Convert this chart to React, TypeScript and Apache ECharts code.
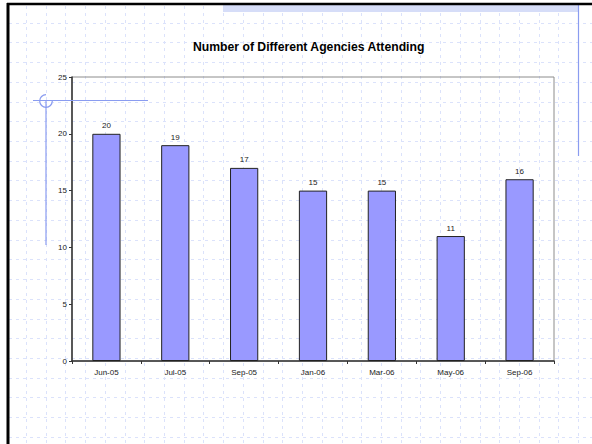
import React, { useEffect, useRef } from "react";
import * as echarts from "echarts";

const categories = ["Jun-05", "Jul-05", "Sep-05", "Jan-06", "Mar-06", "May-06", "Sep-06"];
const agencies = [20, 19, 17, 15, 15, 11, 16];
const titleText = "Number of Different Agencies Attending";

const W = 592;
const H = 444;

function buildDecor() {
  const els: any[] = [];
  const gridColor = "#dbe2fb";
  for (let x = 26; x < W; x += 19.72) {
    els.push({
      type: "line",
      z: -10,
      silent: true,
      shape: { x1: Math.round(x) + 0.5, y1: 6, x2: Math.round(x) + 0.5, y2: H },
      style: { stroke: gridColor, lineWidth: 1, lineDash: [3, 4] },
    });
  }
  for (let y = 22.7; y < H; y += 19.72) {
    els.push({
      type: "line",
      z: -10,
      silent: true,
      shape: { x1: 9, y1: Math.round(y) + 0.5, x2: W, y2: Math.round(y) + 0.5 },
      style: { stroke: gridColor, lineWidth: 1, lineDash: [3, 4] },
    });
  }
  els.push({
    type: "rect",
    z: -5,
    silent: true,
    shape: { x: 223, y: 5, width: 356, height: 7 },
    style: { fill: "#d6ddf8" },
  });
  els.push({
    type: "line",
    z: 10,
    silent: true,
    shape: { x1: 8, y1: 3, x2: 8, y2: H },
    style: { stroke: "#000", lineWidth: 3 },
  });
  els.push({
    type: "line",
    z: 10,
    silent: true,
    shape: { x1: 7, y1: 4, x2: W, y2: 4 },
    style: { stroke: "#000", lineWidth: 2.5 },
  });
  els.push({
    type: "line",
    z: 5,
    silent: true,
    shape: { x1: 578.5, y1: 5, x2: 578.5, y2: 156 },
    style: { stroke: "#8a9cf0", lineWidth: 1.2 },
  });
  els.push({
    type: "line",
    z: 5,
    silent: true,
    shape: { x1: 33, y1: 100.5, x2: 148, y2: 100.5 },
    style: { stroke: "#8a9cf0", lineWidth: 1.2 },
  });
  els.push({
    type: "line",
    z: 5,
    silent: true,
    shape: { x1: 46, y1: 100, x2: 46, y2: 245 },
    style: { stroke: "#8a9cf0", lineWidth: 1.2 },
  });
  els.push({
    type: "arc",
    z: 5,
    silent: true,
    shape: { cx: 46, cy: 101, r: 6.3, startAngle: 0, endAngle: Math.PI * 1.5, clockwise: true },
    style: { stroke: "#8a9cf0", lineWidth: 1.2, fill: "none" },
  });
  return els;
}

export default function App() {
  const ref = useRef<HTMLDivElement>(null);
  useEffect(() => {
    if (!ref.current) return;
    const chart = echarts.init(ref.current, undefined, { renderer: "svg" });
    chart.setOption({
      animation: false,
      backgroundColor: "#ffffff",
      title: {
        text: titleText,
        left: 188,
        top: 36,
        textStyle: { fontFamily: "Arial, Liberation Sans", fontWeight: "bold", fontSize: 12.2, color: "#000" },
      },
      grid: {
        left: 72,
        right: 38,
        top: 77,
        bottom: 83,
        show: true,
        backgroundColor: "transparent",
        borderColor: "#8c8c8c",
        borderWidth: 1,
      },
      xAxis: {
        type: "category",
        data: categories,
        axisLine: { lineStyle: { color: "#333", width: 1.5 } },
        axisTick: { show: true, alignWithLabel: false, length: 3, lineStyle: { color: "#333" } },
        axisLabel: { fontFamily: "Arial, Liberation Sans", fontSize: 8, color: "#222", margin: 7 },
      },
      yAxis: {
        type: "value",
        min: 0,
        max: 25,
        interval: 5,
        axisLine: { show: true, lineStyle: { color: "#333", width: 1.5 } },
        axisTick: { show: true, length: 3, lineStyle: { color: "#333" } },
        axisLabel: { fontFamily: "Arial, Liberation Sans", fontSize: 8, color: "#222", margin: 5 },
        splitLine: { show: false },
      },
      series: [
        {
          type: "bar",
          data: agencies,
          barWidth: "41%",
          itemStyle: { color: "#9999ff", borderColor: "#222", borderWidth: 1 },
          label: {
            show: true,
            position: "top",
            distance: 4,
            fontFamily: "Arial, Liberation Sans",
            fontSize: 8,
            color: "#222",
          },
        },
      ],
      graphic: buildDecor(),
    });
    return () => chart.dispose();
  }, []);
  return <div ref={ref} style={{ position: "fixed", left: 0, top: 0, width: W, height: H }} />;
}
